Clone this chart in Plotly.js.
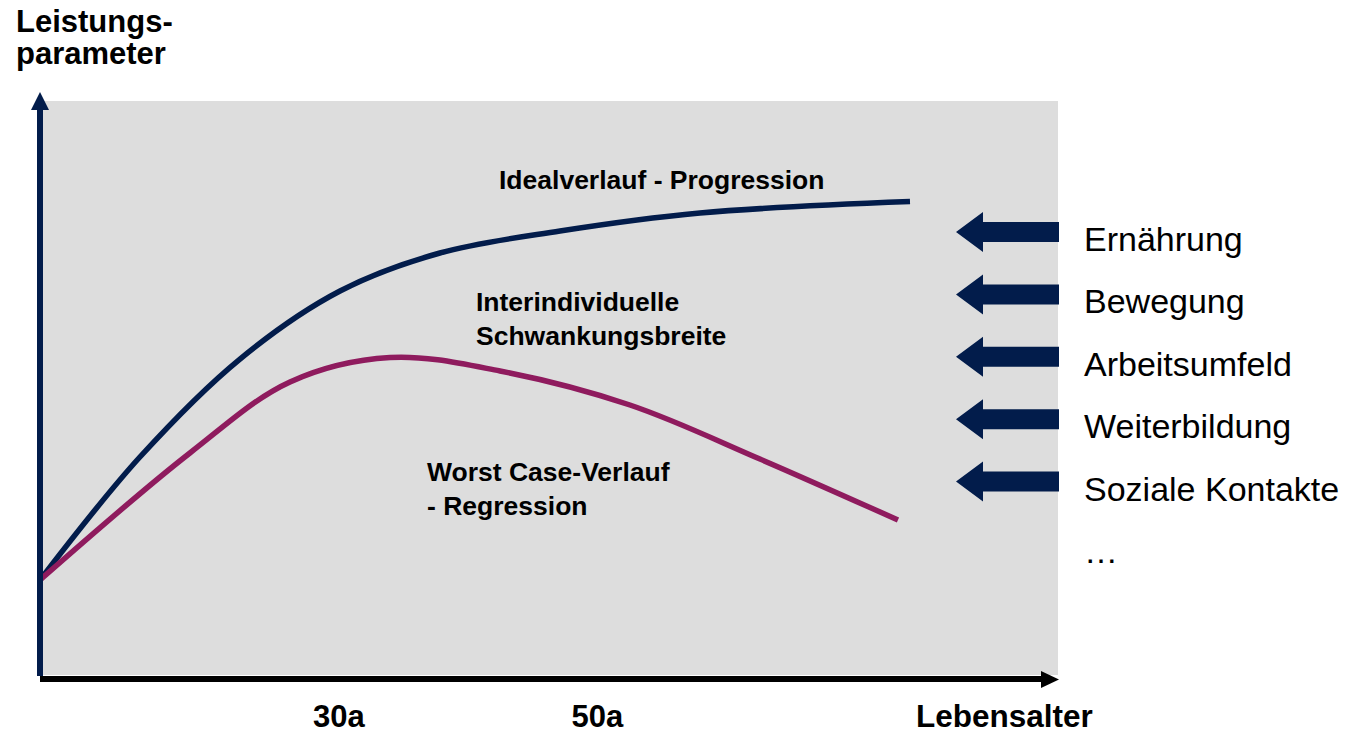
<!DOCTYPE html>
<html>
<head>
<meta charset="utf-8">
<script src="https://cdn.plot.ly/plotly-3.0.1.min.js"></script>
<style>
html,body{margin:0;padding:0;background:#fff;}
#chart{width:1347px;height:734px;}
</style>
</head>
<body>
<div id="chart"></div>
<script>
// ---- data (ages in years, performance in arbitrary units 0-100) ----
const idealAge   = [6.87, 14.60, 22.34, 30.08, 37.81, 47.10, 57.93, 74.18];
const idealValue = [16.55, 37.98, 55.05, 66.90, 73.52, 77.35, 80.49, 82.49];

const worstAge   = [6.87, 18.47, 26.21, 33.95, 42.46, 52.51, 62.57, 73.25];
const worstValue = [16.55, 38.68, 51.05, 55.31, 52.96, 47.04, 37.63, 27.00];

const tickAges   = [30, 50];
const tickLabels = ['30a', '50a'];

const factors = ['Ernährung', 'Bewegung', 'Arbeitsumfeld', 'Weiterbildung', 'Soziale Kontakte', '…'];
const factorHasArrow = [true, true, true, true, true, false];

const labelIdeal = 'Idealverlauf - Progression';
const labelRange = 'Interindividuelle<br>Schwankungsbreite';
const labelWorst = 'Worst Case-Verlauf<br>- Regression';
const yTitle = ['Leistungs-', 'parameter'];
const xTitle = 'Lebensalter';

// ---- layout geometry ----
const W = 1347, H = 734;
const M = {l: 40, r: 289, t: 101, b: 59};
const PW = W - M.l - M.r, PH = H - M.t - M.b;
const px = x => (x - M.l) / PW;   // pixel -> paper x
const py = y => (H - M.b - y) / PH; // pixel -> paper y

const NAVY = '#021C4B';
const MAGENTA = '#8F1B5E';
const GREY = '#DDDDDD';
const FONT = 'Liberation Sans, Arial, sans-serif';

const traces = [
  {x: idealAge, y: idealValue, mode: 'lines', line: {color: NAVY, width: 5.5, shape: 'spline', smoothing: 1}, hoverinfo: 'skip', cliponaxis: false},
  {x: worstAge, y: worstValue, mode: 'lines', line: {color: MAGENTA, width: 5.5, shape: 'spline', smoothing: 1}, hoverinfo: 'skip', cliponaxis: false}
];

const shapes = [];
// y axis arrow (navy)
shapes.push({type: 'line', xref: 'paper', yref: 'paper', x0: px(40), x1: px(40), y0: py(676), y1: py(108), line: {color: NAVY, width: 6}, layer: 'above'});
shapes.push({type: 'path', xref: 'paper', yref: 'paper', layer: 'above',
  path: `M ${px(31)} ${py(110)} L ${px(49)} ${py(110)} L ${px(40)} ${py(92)} Z`, fillcolor: NAVY, line: {width: 0}});
// x axis arrow (black)
shapes.push({type: 'line', xref: 'paper', yref: 'paper', x0: px(40), x1: px(1043), y0: py(679), y1: py(679), line: {color: '#000', width: 6}, layer: 'above'});
shapes.push({type: 'path', xref: 'paper', yref: 'paper', layer: 'above',
  path: `M ${px(1041)} ${py(671)} L ${px(1041)} ${py(688)} L ${px(1059)} ${py(679.5)} Z`, fillcolor: '#000', line: {width: 0}});

// factor arrows and labels
const factorY0 = 239, factorStep = 62.4;
const annotations = [];
factors.forEach((f, i) => {
  const cy = factorY0 + i * factorStep;
  if (factorHasArrow[i]) {
    const ay = cy - 7;
    shapes.push({type: 'path', xref: 'paper', yref: 'paper', layer: 'above', fillcolor: NAVY, line: {width: 0},
      path: `M ${px(956)} ${py(ay)} L ${px(983)} ${py(ay - 20)} L ${px(983)} ${py(ay - 10)} L ${px(1059)} ${py(ay - 10)} L ${px(1059)} ${py(ay + 10)} L ${px(983)} ${py(ay + 10)} L ${px(983)} ${py(ay + 20)} Z`});
  }
  annotations.push({xref: 'paper', yref: 'paper', x: px(1082), y: py(cy), xanchor: 'left', yanchor: 'middle',
    text: f, showarrow: false, font: {family: FONT, size: 34, color: '#000'}});
});

const boldFont = s => ({family: FONT, size: s, color: '#000', weight: 'bold'});
annotations.push({xref: 'paper', yref: 'paper', x: px(497), y: py(180), xanchor: 'left', yanchor: 'middle', text: labelIdeal, showarrow: false, font: boldFont(26.5)});
annotations.push({xref: 'paper', yref: 'paper', x: px(474), y: py(318.5), xanchor: 'left', yanchor: 'middle', align: 'left', text: labelRange, showarrow: false, font: boldFont(26.5)});
annotations.push({xref: 'paper', yref: 'paper', x: px(425), y: py(489.5), xanchor: 'left', yanchor: 'middle', align: 'left', text: labelWorst, showarrow: false, font: boldFont(26.5)});
annotations.push({xref: 'paper', yref: 'paper', x: px(14), y: py(22), xanchor: 'left', yanchor: 'middle', text: yTitle[0], showarrow: false, font: boldFont(31)});
annotations.push({xref: 'paper', yref: 'paper', x: px(14), y: py(54), xanchor: 'left', yanchor: 'middle', text: yTitle[1], showarrow: false, font: boldFont(31)});
annotations.push({xref: 'paper', yref: 'paper', x: px(915), y: py(716), xanchor: 'left', yanchor: 'middle', borderpad: 0, text: xTitle, showarrow: false, font: boldFont(31.5)});

const layout = {
  width: W, height: H,
  margin: M,
  paper_bgcolor: '#fff',
  plot_bgcolor: GREY,
  showlegend: false,
  font: {family: FONT},
  xaxis: {range: [6.87, 85.63], showgrid: false, zeroline: false, showline: false,
    tickmode: 'array', tickvals: tickAges, ticktext: tickLabels, ticks: '',
    tickfont: boldFont(31), ticklabelstandoff: 20, fixedrange: true},
  yaxis: {range: [0, 100], showgrid: false, zeroline: false, showline: false, showticklabels: false, ticks: '', fixedrange: true},
  shapes: shapes,
  annotations: annotations
};

Plotly.newPlot('chart', traces, layout, {displayModeBar: false, staticPlot: true});
</script>
</body>
</html>
